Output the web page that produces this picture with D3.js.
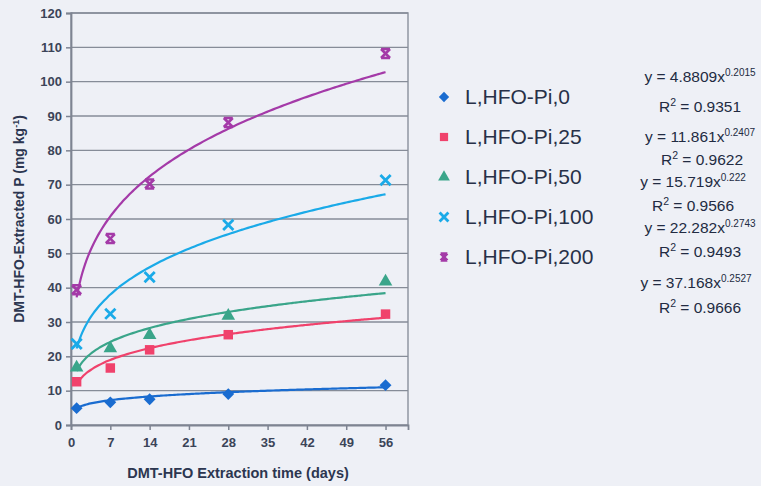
<!DOCTYPE html>
<html>
<head>
<meta charset="utf-8">
<script src="https://d3js.org/d3.v7.min.js"></script>
<style>
body { margin: 0; background: #eef0f6; font-family: "Liberation Sans", Arial, sans-serif; }
svg { display: block; }
</style>
</head>
<body>
<script>
var width = 761, height = 486;

var days = [1, 7, 14, 28, 56];
var pi0   = [4.9, 6.6, 7.5, 9.0, 11.6];
var pi25  = [12.6, 16.6, 21.9, 26.3, 32.3];
var pi50  = [16.7, 22.3, 26.2, 31.8, 41.8];
var pi100 = [23.6, 32.4, 43.1, 58.3, 71.3];
var pi200 = [39.4, 54.3, 70.2, 88.1, 108.2];

var names = ["L,HFO-Pi,0", "L,HFO-Pi,25", "L,HFO-Pi,50", "L,HFO-Pi,100", "L,HFO-Pi,200"];
var colors = ["#1a6cd0", "#f0426c", "#3aa58a", "#1aaae8", "#a43aa8"];
var shapes = ["diamond", "square", "triangle", "cross", "star"];

// power trendline coefficients shown on the chart
var coefA = [4.8809, 11.861, 15.719, 22.282, 37.168];
var coefB = ["0.2015", "0.2407", "0.222", "0.2743", "0.2527"];
var rsq = ["0.9351", "0.9622", "0.9566", "0.9493", "0.9666"];

var xTicks = [0, 7, 14, 21, 28, 35, 42, 49, 56];
var yTicks = d3.range(0, 121, 10);

var series = [pi0, pi25, pi50, pi100, pi200];

var svg = d3.select("body").append("svg")
    .attr("width", width).attr("height", height);

var pLeft = 71, pRight = 408, pTop = 13, pBottom = 425;

var x = d3.scaleLinear().domain([0, 60]).range([pLeft, pRight]);
var y = d3.scaleLinear().domain([0, 120]).range([pBottom, pTop]);

// plot frame
svg.append("rect")
    .attr("x", pLeft).attr("y", pTop)
    .attr("width", pRight - pLeft).attr("height", pBottom - pTop)
    .attr("fill", "none").attr("stroke", "#9096a2").attr("stroke-width", 1.5);

// gridlines
svg.append("g").selectAll("line")
    .data(yTicks.filter(function(d) { return d > 0; }))
    .enter().append("line")
    .attr("x1", pLeft).attr("x2", pRight)
    .attr("y1", function(d) { return y(d); })
    .attr("y2", function(d) { return y(d); })
    .attr("stroke", "#868c98").attr("stroke-width", 1.3);

var yAxis = svg.append("g")
    .attr("transform", "translate(" + pLeft + ",0)")
    .call(d3.axisLeft(y).tickValues(yTicks).tickSize(5).tickPadding(4));
var xAxis = svg.append("g")
    .attr("transform", "translate(0," + pBottom + ")")
    .call(d3.axisBottom(x).tickValues(xTicks).tickSize(5).tickPadding(8));

[xAxis, yAxis].forEach(function(a) {
    a.select(".domain").attr("stroke", "#7e8492").attr("stroke-width", 1.8);
    a.selectAll(".tick line").attr("stroke", "#7e8492").attr("stroke-width", 1.5);
    a.selectAll(".tick text")
        .attr("fill", "#3b4458")
        .style("font-size", "13px")
        .style("font-weight", "bold")
        .style("font-family", "'Liberation Sans', Arial, sans-serif");
});

// trendlines
var line = d3.line()
    .x(function(d) { return x(d[0]); })
    .y(function(d) { return y(d[1]); })
    .curve(d3.curveBasis);

var xs = d3.range(1, 56.01, 0.5);
coefA.forEach(function(a, i) {
    var b = +coefB[i];
    svg.append("path")
        .datum(xs.map(function(t) { return [t, a * Math.pow(t, b)]; }))
        .attr("d", line)
        .attr("fill", "none")
        .attr("stroke", colors[i])
        .attr("stroke-width", 2.2);
});

var symType = {
    diamond: d3.symbolDiamond2, square: d3.symbolSquare, triangle: d3.symbolTriangle,
    cross: d3.symbolTimes
};
var symSize = { diamond: 90, square: 90, triangle: 80, cross: 70 };

function marker(g, shape, color, k) {
    k = k || 1;
    if (shape === "star") {
        // excel-style star: an x with short bars top and bottom
        var r = 4.5 * k;
        g.append("path")
            .attr("d", "M" + (-r) + "," + (-r) + "L" + r + "," + r +
                       "M" + r + "," + (-r) + "L" + (-r) + "," + r +
                       "M" + (-r) + "," + (-r) + "H" + r +
                       "M" + (-r) + "," + r + "H" + r)
            .attr("fill", "none").attr("stroke", color).attr("stroke-width", 2.6);
        return;
    }
    var s = d3.symbol().type(symType[shape]).size(symSize[shape] * k);
    var p = g.append("path").attr("d", s());
    if (shape === "cross") {
        p.attr("fill", "none").attr("stroke", color).attr("stroke-width", 2.8);
    } else {
        p.attr("fill", color);
    }
}

series.forEach(function(vals, i) {
    vals.forEach(function(v, j) {
        var g = svg.append("g")
            .attr("transform", "translate(" + x(days[j]) + "," + y(v) + ")");
        marker(g, shapes[i], colors[i]);
    });
});

// axis titles
svg.append("text")
    .attr("transform", "translate(24," + (pTop + pBottom) / 2 + ") rotate(-90)")
    .attr("text-anchor", "middle")
    .attr("fill", "#2c3650")
    .style("font-size", "14px").style("font-weight", "bold")
    .html("DMT-HFO-Extracted P (mg kg<tspan dy='-5' font-size='9px'>-1</tspan><tspan dy='5'>)</tspan>");

svg.append("text")
    .attr("x", 238).attr("y", 478)
    .attr("text-anchor", "middle")
    .attr("fill", "#2c3650")
    .style("font-size", "14.5px").style("font-weight", "bold")
    .text("DMT-HFO Extraction time (days)");

// legend
var legendY = [97, 137, 177, 217, 257];
names.forEach(function(n, i) {
    var g = svg.append("g").attr("transform", "translate(444," + legendY[i] + ")");
    marker(g, shapes[i], colors[i], 0.75);
    svg.append("text")
        .attr("x", 465).attr("y", legendY[i] + 7)
        .attr("fill", "#273048")
        .style("font-size", "21px")
        .text(n);
});

// trendline equations
var eqY = [82, 142, 187, 233, 288];
var r2Y = [112, 165, 211, 257, 313];
var eqX = [700, 700, 693, 700, 696];
var rX = [700, 702, 693, 700, 700];
coefA.forEach(function(a, i) {
    svg.append("text")
        .attr("x", eqX[i]).attr("y", eqY[i])
        .attr("text-anchor", "middle")
        .attr("fill", "#222b42")
        .style("font-size", "15.5px")
        .html("y = " + a + "x<tspan dy='-6' font-size='10px'>" + coefB[i] + "</tspan>");
    svg.append("text")
        .attr("x", rX[i]).attr("y", r2Y[i])
        .attr("text-anchor", "middle")
        .attr("fill", "#222b42")
        .style("font-size", "15.5px")
        .html("R<tspan dy='-6' font-size='10.5px'>2</tspan><tspan dy='6'> = " + rsq[i] + "</tspan>");
});
</script>
</body>
</html>
